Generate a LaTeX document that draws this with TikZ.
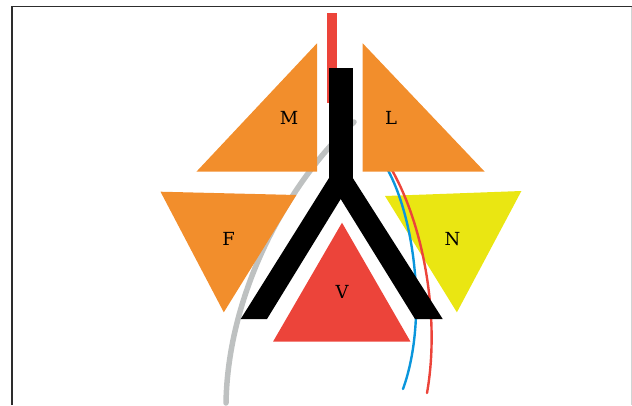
\documentclass[tikz,border=0pt]{standalone}
\usepackage{fontspec}
\setmainfont{DejaVu Serif}
\usetikzlibrary{positioning}

\definecolor{lobeorange}{RGB}{242,142,44}
\definecolor{lobeyellow}{RGB}{234,230,18}
\definecolor{lobered}{RGB}{236,68,58}
\definecolor{vesselblue}{RGB}{10,150,220}
\definecolor{nervegray}{RGB}{190,193,193}
\definecolor{framegray}{RGB}{45,45,45}

\begin{document}
\begin{tikzpicture}[x=1pt, y=-1pt,
  every node/.style={font=\fontsize{18}{18}\selectfont, inner sep=0pt},
  lobe/.style={fill=lobeorange},
  frameline/.style={draw=framegray, line width=1.2pt},
  vessel/.style={line width=2.4pt, line cap=round}]

\useasboundingbox (0,0) rectangle (632,405);

% frame
\draw[frameline] (12,405) -- (12,6.5) -- (632,6.5);
\draw[draw=nervegray!70, line width=0.8pt] (631,6.5) -- (631,405);

% gray nerve behind everything
\draw[nervegray, line width=5.5pt, line cap=round]
  (226,403) .. controls (228,290) and (290,180) .. (354,122);

% lobes
\fill[lobe] (317,43.3) -- (317,171.7) -- (196.4,171.7) -- cycle;
\fill[lobe] (160.5,191.7) -- (296.4,195) -- (223.8,312.3) -- cycle;
\fill[lobered] (342,222.7) -- (410.5,341.7) -- (273,341.7) -- cycle;
\fill[lobeyellow] (385,196) -- (521.4,191) -- (456.9,312.3) -- cycle;

% vessels
\draw[vessel, vesselblue] (385,165) .. controls (415,215) and (428,320) .. (403,389);
\draw[vessel, lobered] (389,165) .. controls (425,225) and (440,320) .. (427,393);

\fill[lobe] (362.7,43.3) -- (484.7,171.7) -- (362.7,171.7) -- cycle;

% trachea and bronchi
\fill[lobered] (327,13) rectangle (337,103);
\fill[black] (329,68) -- (352.8,68) -- (352.8,178) -- (442.7,319) -- (415,319)
  -- (340.7,199) -- (267,319) -- (240.7,319) -- (329,178) -- cycle;

% labels
\node (labM) at (289,117.5) {M};
\node (labL) at (391,117.5) {L};
\node (labF) at (228.6,238.5) {F};
\node (labN) at (452.4,239) {N};
\node (labV) at (342,292) {V};

\end{tikzpicture}
\end{document}
